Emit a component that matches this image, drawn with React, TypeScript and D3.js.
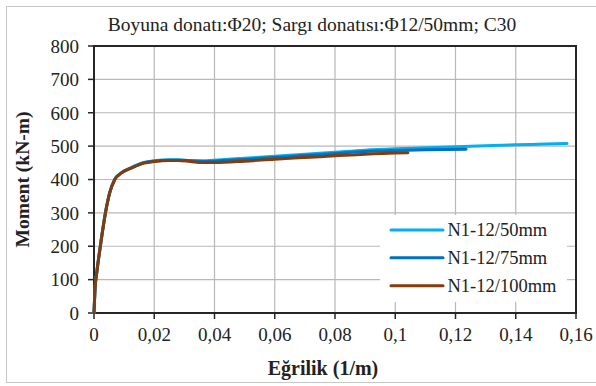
import React from "react";
import * as d3 from "d3";

const title = "Boyuna donatı:Φ20; Sargı donatısı:Φ12/50mm; C30";
const xTitle = "Eğrilik (1/m)";
const yTitle = "Moment (kN-m)";
const seriesNames = ["N1-12/50mm", "N1-12/75mm", "N1-12/100mm"];
const seriesColors = ["#00b0f0", "#0070c0", "#843c0c"];

const x50 = [0, 0.0004, 0.0009, 0.0021, 0.0038, 0.0052, 0.0069, 0.0091, 0.0124, 0.0166, 0.02, 0.025, 0.028, 0.032, 0.036, 0.04, 0.05, 0.06, 0.07, 0.08, 0.09, 0.1, 0.11, 0.12, 0.13, 0.14, 0.15, 0.157];
const m50 = [0, 80, 120, 200, 300, 360, 400, 420, 436, 451, 456, 459, 459, 457, 456, 458, 464, 470, 476, 482, 488, 492, 495, 498, 501, 504, 506, 508];
const x75 = [0, 0.0004, 0.0009, 0.0021, 0.0038, 0.0052, 0.0069, 0.0091, 0.0124, 0.0166, 0.02, 0.025, 0.028, 0.032, 0.036, 0.04, 0.05, 0.06, 0.07, 0.08, 0.09, 0.1, 0.11, 0.1235];
const m75 = [0, 80, 120, 200, 300, 360, 400, 420, 435, 450, 455, 458, 458, 456, 454, 455, 460, 466, 472, 478, 484, 487, 489, 491];
const x100 = [0, 0.0004, 0.0009, 0.0021, 0.0038, 0.0052, 0.0069, 0.0091, 0.0124, 0.0166, 0.02, 0.025, 0.028, 0.032, 0.036, 0.04, 0.05, 0.06, 0.07, 0.08, 0.09, 0.1042];
const m100 = [0, 80, 120, 200, 300, 360, 400, 420, 434, 449, 454, 457, 457, 454, 451, 451, 455, 461, 466, 471, 476, 480];

const xTicks = [0, 0.02, 0.04, 0.06, 0.08, 0.1, 0.12, 0.14, 0.16];
const yTicks = [0, 100, 200, 300, 400, 500, 600, 700, 800];

const FONT = "'Liberation Serif', 'Times New Roman', serif";

export default function App() {
  const left = 94, right = 576, top = 46, bottom = 313;
  const x = d3.scaleLinear().domain([0, 0.16]).range([left, right]);
  const y = d3.scaleLinear().domain([0, 800]).range([bottom, top]);
  const fmt = (v: number) => String(+v.toFixed(2)).replace(".", ",");

  const series = [
    { xs: x50, ms: m50 },
    { xs: x75, ms: m75 },
    { xs: x100, ms: m100 },
  ];
  const line = d3
    .line<[number, number]>()
    .x((d) => x(d[0]))
    .y((d) => y(d[1]))
    .curve(d3.curveMonotoneX);

  const legX = 380, legY = 215, legW = 187, legH = 87;
  const rowY = [230, 257.7, 285.7];

  return (
    <svg width={596} height={386} style={{ position: "absolute", left: 0, top: 0, background: "#fff" }} fontFamily={FONT}>
      <rect x={0} y={0} width={596} height={386} fill="#fff" />
      <rect x={6.5} y={6.5} width={620} height={376} fill="none" stroke="#c8c8c8" strokeWidth={1} />
      <text x={312} y={31} textAnchor="middle" fontSize={19.5} fill="#222">{title}</text>
      {yTicks.map((t) => (
        <line key={"gy" + t} x1={left} x2={right} y1={y(t)} y2={y(t)} stroke="#b8b8b8" strokeWidth={1.2} />
      ))}
      {xTicks.map((t) => (
        <line key={"gx" + t} x1={x(t)} x2={x(t)} y1={top} y2={bottom} stroke="#b8b8b8" strokeWidth={1.2} />
      ))}
      <rect x={left} y={top} width={right - left} height={bottom - top} fill="none" stroke="#262626" strokeWidth={2} />
      {yTicks.map((t) => (
        <g key={"ty" + t}>
          <line x1={left - 6} x2={left} y1={y(t)} y2={y(t)} stroke="#262626" strokeWidth={1.5} />
          <text x={79} y={y(t)} dy="0.36em" textAnchor="end" fontSize={19} fill="#222">{t}</text>
        </g>
      ))}
      {xTicks.map((t) => (
        <g key={"tx" + t}>
          <line x1={x(t)} x2={x(t)} y1={bottom} y2={bottom + 6} stroke="#262626" strokeWidth={1.5} />
          <text x={x(t)} y={341} textAnchor="middle" fontSize={19} fill="#222">{fmt(t)}</text>
        </g>
      ))}
      {series.map((s, i) => (
        <path
          key={"s" + i}
          d={line(s.xs.map((v, j) => [v, s.ms[j]] as [number, number])) || ""}
          fill="none"
          stroke={seriesColors[i]}
          strokeWidth={3}
          strokeLinejoin="round"
          strokeLinecap="round"
        />
      ))}
      <rect x={legX} y={legY} width={legW} height={legH} fill="#fff" />
      {seriesNames.map((n, i) => (
        <g key={"l" + i}>
          <line x1={391} x2={443} y1={rowY[i]} y2={rowY[i]} stroke={seriesColors[i]} strokeWidth={3} strokeLinecap="round" />
          <text x={447.5} y={rowY[i]} dy="0.34em" fontSize={18.5} fill="#222">{n}</text>
        </g>
      ))}
      <text x={323} y={375} textAnchor="middle" fontSize={20} fontWeight="bold" fill="#222">{xTitle}</text>
      <text transform={`translate(29,${(top + bottom) / 2}) rotate(-90)`} textAnchor="middle" fontSize={19.5} fontWeight="bold" fill="#222">{yTitle}</text>
    </svg>
  );
}
